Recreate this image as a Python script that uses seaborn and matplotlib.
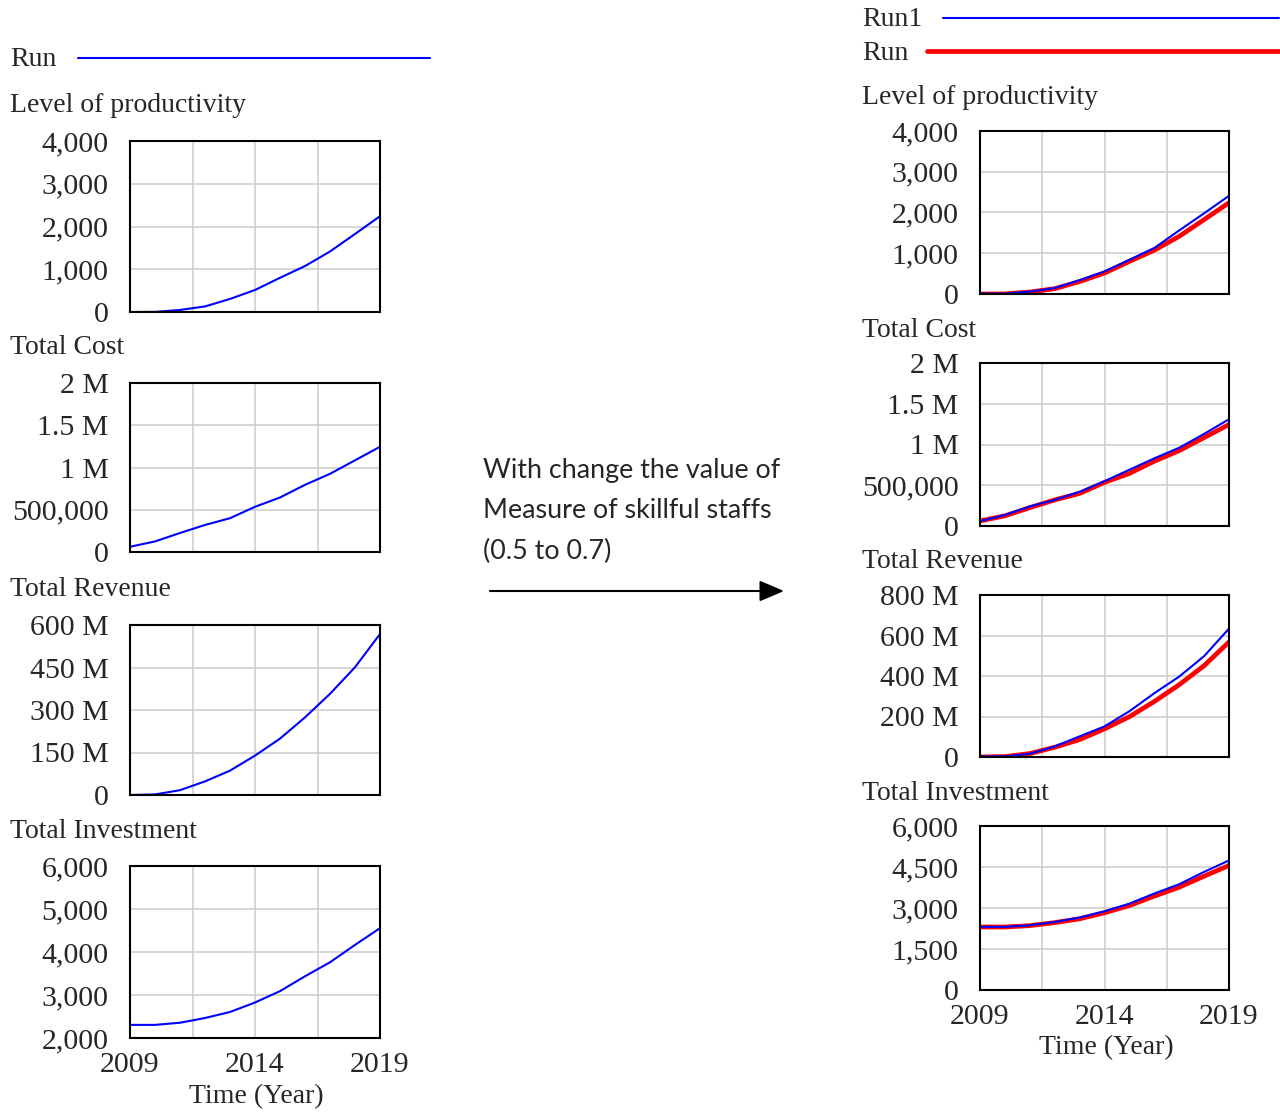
import matplotlib
matplotlib.use("Agg")
import matplotlib.pyplot as plt
import seaborn as sns
import pandas as pd
from matplotlib.lines import Line2D

# ---------------- data ----------------
years = [2009, 2010, 2011, 2012, 2013, 2014, 2015, 2016, 2017, 2018, 2019]

productivity_run = [0, 3, 48, 130, 305, 515, 800, 1075, 1415, 1825, 2240]
productivity_run1 = [10, 12, 60, 145, 340, 555, 840, 1130, 1560, 1980, 2410]

cost_run = [62e3, 125e3, 225e3, 320e3, 400e3, 535e3, 645e3, 795e3, 925e3, 1085e3, 1245e3]
cost_run1 = [60e3, 135e3, 240e3, 320e3, 420e3, 550e3, 690e3, 830e3, 960e3, 1130e3, 1310e3]

revenue_run = [0, 2e6, 17e6, 48e6, 86e6, 139e6, 199e6, 274e6, 357e6, 451e6, 568e6]
revenue_run1 = [3e6, 3e6, 16e6, 52e6, 102e6, 151e6, 226e6, 315e6, 397e6, 498e6, 634e6]

investment_run = [2305, 2305, 2355, 2465, 2605, 2825, 3090, 3435, 3760, 4165, 4555]
investment_run1 = [2310, 2310, 2370, 2490, 2650, 2880, 3160, 3530, 3870, 4320, 4740]

titles = ["Level of productivity", "Total Cost", "Total Revenue", "Total Investment"]

left_yticks = [
    [0, 1000, 2000, 3000, 4000],
    [0, 500e3, 1e6, 1.5e6, 2e6],
    [0, 150e6, 300e6, 450e6, 600e6],
    [2000, 3000, 4000, 5000, 6000],
]
left_ylabels = [
    ["0", "1,000", "2,000", "3,000", "4,000"],
    ["0", "500,000", "1 M", "1.5 M", "2 M"],
    ["0", "150 M", "300 M", "450 M", "600 M"],
    ["2,000", "3,000", "4,000", "5,000", "6,000"],
]
right_yticks = [
    [0, 1000, 2000, 3000, 4000],
    [0, 500e3, 1e6, 1.5e6, 2e6],
    [0, 200e6, 400e6, 600e6, 800e6],
    [0, 1500, 3000, 4500, 6000],
]
right_ylabels = [
    ["0", "1,000", "2,000", "3,000", "4,000"],
    ["0", "500,000", "1 M", "1.5 M", "2 M"],
    ["0", "200 M", "400 M", "600 M", "800 M"],
    ["0", "1,500", "3,000", "4,500", "6,000"],
]
xticks = [2009, 2011.5, 2014, 2016.5, 2019]
xlabels_bottom = ["2009", "", "2014", "", "2019"]

run_series = [productivity_run, cost_run, revenue_run, investment_run]
run1_series = [productivity_run1, cost_run1, revenue_run1, investment_run1]

annotation = "With change the value of\nMeasure of skillful staffs\n(0.5 to 0.7)"

# ---------------- style ----------------
sns.set_style("white")
plt.rcParams["font.family"] = ["Liberation Serif", "DejaVu Serif"]

W, H = 1280, 1113
fig = plt.figure(figsize=(W / 100, H / 100), dpi=100)


def px_axes(x0, y0, x1, y1):
    return fig.add_axes([x0 / W, 1 - y1 / H, (x1 - x0) / W, (y1 - y0) / H])


FS = 21.5
TFS = 20
BLUE = "#0000ff"
RED = "#ff0000"


def style_axes(ax, yt, yl, bottom, ylim):
    ax.set_xlim(2009, 2019)
    ax.set_ylim(*ylim)
    ax.set_xticks(xticks)
    ax.set_xticklabels(xlabels_bottom if bottom else [""] * 5, fontsize=FS)
    ax.set_yticks(yt)
    ax.set_yticklabels(yl, fontsize=FS)
    ax.tick_params(axis="both", length=0)
    ax.tick_params(axis="y", pad=15.5)
    ax.tick_params(axis="x", pad=10)
    ax.grid(True, color="#cccccc", linewidth=1.1)
    ax.set_axisbelow(True)
    for s in ax.spines.values():
        s.set_color("black")
        s.set_linewidth(1.5)
        s.set_visible(True)
    ax.set_xlabel("")
    ax.set_ylabel("")
    if ax.get_legend():
        ax.get_legend().remove()


left_boxes = [(130, 141, 380, 312), (130, 383, 380, 552), (130, 625, 380, 795), (130, 866, 380, 1038)]
right_boxes = [(980, 131, 1229, 294), (980, 363, 1229, 526), (980, 595, 1229, 757), (980, 826, 1229, 990)]
left_title_y = [106, 348, 590, 832]
right_title_y = [98, 330, 562, 794]

for i in range(4):
    # left column: single run
    ax = px_axes(*left_boxes[i])
    df = pd.DataFrame({"year": years, "value": run_series[i]})
    sns.lineplot(data=df, x="year", y="value", ax=ax, color=BLUE, linewidth=1.5)
    style_axes(ax, left_yticks[i], left_ylabels[i], i == 3,
               (left_yticks[i][0], left_yticks[i][-1]))
    fig.text(10 / W, 1 - left_title_y[i] / H, titles[i], fontsize=TFS, va="center", ha="left")

    # right column: Run (red) and Run1 (blue)
    ax = px_axes(*right_boxes[i])
    df = pd.DataFrame({
        "year": years * 2,
        "value": list(run_series[i]) + list(run1_series[i]),
        "run": ["Run"] * len(years) + ["Run1"] * len(years),
    })
    sns.lineplot(data=df[df.run == "Run"], x="year", y="value", ax=ax, color=RED, linewidth=3.4)
    sns.lineplot(data=df[df.run == "Run1"], x="year", y="value", ax=ax, color=BLUE, linewidth=1.5)
    style_axes(ax, right_yticks[i], right_ylabels[i], i == 3,
               (right_yticks[i][0], right_yticks[i][-1]))
    fig.text(862 / W, 1 - right_title_y[i] / H, titles[i], fontsize=TFS, va="center", ha="left")

# x-axis titles
fig.text(256 / W, 1 - 1097 / H, "Time (Year)", fontsize=TFS, ha="center", va="center")
fig.text(1106 / W, 1 - 1048 / H, "Time (Year)", fontsize=TFS, ha="center", va="center")

# legends
fig.text(10 / W, 1 - 60 / H, "Run", fontsize=TFS, va="center", ha="left")
fig.add_artist(Line2D([78 / W, 430 / W], [1 - 58 / H, 1 - 58 / H], color=BLUE, linewidth=1.5))
fig.text(862 / W, 1 - 20 / H, "Run1", fontsize=TFS, va="center", ha="left")
fig.add_artist(Line2D([943 / W, 1279 / W], [1 - 18 / H, 1 - 18 / H], color=BLUE, linewidth=1.5))
fig.text(862 / W, 1 - 54 / H, "Run", fontsize=TFS, va="center", ha="left")
fig.add_artist(Line2D([927 / W, 1279 / W], [1 - 51 / H, 1 - 51 / H], color=RED, linewidth=3.4))

# middle annotation and arrow
fig.text(483 / W, 1 - 511 / H, annotation, fontsize=19.4, family=["Lato", "DejaVu Sans"],
         ha="left", va="center", linespacing=1.76)
fig.add_artist(matplotlib.patches.FancyArrowPatch(
    (490 / W, 1 - 591 / H), (784 / W, 1 - 591 / H), transform=fig.transFigure,
    arrowstyle="-|>,head_length=0.75,head_width=0.32", mutation_scale=20,
    color="black", linewidth=1.5, shrinkA=0, shrinkB=0))

fig.savefig("out.png", dpi=100)
